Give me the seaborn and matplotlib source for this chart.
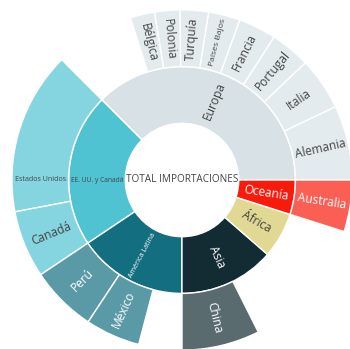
import numpy as np
import matplotlib
matplotlib.use("Agg")
import matplotlib.pyplot as plt
import seaborn as sns

# ============================================================
# DATA (shares of total imports, %)
# ============================================================
ROOT_LABEL = "TOTAL IMPORTACIONES"

REGIONS = ["Europa", "EE. UU. y Canadá", "América Latina", "Asia", "África", "Oceanía"]
REGION_VALUES = [37.5, 21.9, 15.6, 13.6, 6.5, 4.9]
REGION_COLORS = ["#d8e2e6", "#50c3d3", "#136e80", "#132b33", "#e0d893", "#f91a0b"]

EUROPA_COUNTRIES = ["Alemania", "Italia", "Portugal", "Francia", "Países Bajos",
                    "Turquía", "Polonia", "Bélgica"]
EUROPA_VALUES = [7.1, 5.0, 3.8, 3.6, 3.0, 2.7, 2.4, 2.3]
NORTEAMERICA_COUNTRIES = ["Estados Unidos", "Canadá"]
NORTEAMERICA_VALUES = [15.5, 6.4]
LATAM_COUNTRIES = ["Perú", "México"]
LATAM_VALUES = [6.3, 5.2]
ASIA_COUNTRIES = ["China"]
ASIA_VALUES = [7.4]
AFRICA_COUNTRIES = []
AFRICA_VALUES = []
OCEANIA_COUNTRIES = ["Australia"]
OCEANIA_VALUES = [4.9]

CHILDREN = [
    (EUROPA_COUNTRIES, EUROPA_VALUES),
    (NORTEAMERICA_COUNTRIES, NORTEAMERICA_VALUES),
    (LATAM_COUNTRIES, LATAM_VALUES),
    (ASIA_COUNTRIES, ASIA_VALUES),
    (AFRICA_COUNTRIES, AFRICA_VALUES),
    (OCEANIA_COUNTRIES, OCEANIA_VALUES),
]

# ============================================================
# STYLE
# ============================================================
W_PX, H_PX = 350, 349
CX, CY = 182, 180    # centre of the sunburst, pixels from top-left
RING = 56.7          # ring width in pixel units
LEAF_ALPHA = 0.7
DARK_TEXT = "#444444"
BASE_PX = 12
# labels that plotly shrank / laid out horizontally
FONT_PX = {"Países Bajos": 8.5, "Estados Unidos": 7.2, "EE. UU. y Canadá": 6.6,
           "América Latina": 7.2, ROOT_LABEL: 10}
HORIZONTAL = {"Estados Unidos", "EE. UU. y Canadá"}


def blend(color, alpha):
    rgb = np.array(matplotlib.colors.to_rgb(color))
    return tuple(alpha * rgb + (1 - alpha) * 1.0)


def text_color(rgb):
    r, g, b = matplotlib.colors.to_rgb(rgb)
    lum = 0.299 * r + 0.587 * g + 0.114 * b
    return "white" if lum < 0.62 else DARK_TEXT


def radial_rotation(mid):
    rot = mid
    if 90 < rot <= 270:
        rot -= 180
    elif rot > 270:
        rot -= 360
    return rot


def add_label(ax, label, wedge, r_mid, color):
    mid = (wedge.theta1 + wedge.theta2) / 2
    rot = radial_rotation(mid)
    if label in HORIZONTAL:
        mid, rot = 180, 0
    x = r_mid * np.cos(np.radians(mid))
    y = r_mid * np.sin(np.radians(mid))
    ax.text(x, y, label, rotation=rot, rotation_mode="anchor",
            ha="center", va="center", color=text_color(color),
            fontsize=FONT_PX.get(label, BASE_PX) * 0.72)


def main():
    sns.set_theme(style="white")
    plt.rcParams["font.family"] = ["Open Sans", "DejaVu Sans"]

    fig = plt.figure(figsize=(W_PX / 100, H_PX / 100), dpi=100)
    ax = fig.add_axes([0, 0, 1, 1])

    # inner ring: regions
    wedges_in, _ = ax.pie(REGION_VALUES, radius=2 * RING, startangle=0,
                          counterclock=True, colors=REGION_COLORS,
                          wedgeprops=dict(width=RING, edgecolor="white", linewidth=1))
    for lab, w, c in zip(REGIONS, wedges_in, REGION_COLORS):
        add_label(ax, lab, w, 1.5 * RING, c)

    # outer ring: countries (+ invisible remainder per region)
    out_vals, out_cols, out_labs = [], [], []
    for (names, vals), total, col in zip(CHILDREN, REGION_VALUES, REGION_COLORS):
        for n, v in zip(names, vals):
            out_vals.append(v)
            out_cols.append(blend(col, LEAF_ALPHA))
            out_labs.append(n)
        rest = total - sum(vals)
        if rest > 1e-6:
            out_vals.append(rest)
            out_cols.append((1, 1, 1, 0))
            out_labs.append(None)
    wedges_out, _ = ax.pie(out_vals, radius=3 * RING, startangle=0,
                           counterclock=True, colors=out_cols,
                           wedgeprops=dict(width=RING, edgecolor="white", linewidth=1))
    for lab, w, c in zip(out_labs, wedges_out, out_cols):
        if lab is None:
            w.set_edgecolor("none")
            continue
        add_label(ax, lab, w, 2.5 * RING, c)

    # centre label
    ax.text(0, 0, ROOT_LABEL, ha="center", va="center", color=DARK_TEXT,
            fontsize=FONT_PX[ROOT_LABEL] * 0.72)

    ax.set_xlim(-CX, W_PX - CX)
    ax.set_ylim(-(H_PX - CY), CY)
    ax.set_aspect("equal")
    ax.axis("off")
    fig.savefig("out.png", dpi=100, facecolor="white")
    plt.close(fig)


if __name__ == "__main__":
    main()
